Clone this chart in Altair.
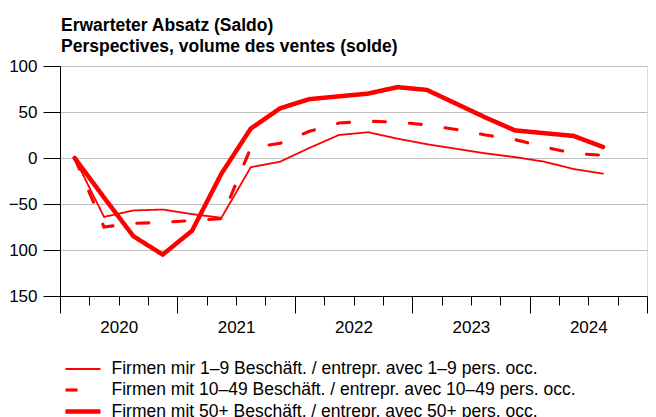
import json
import altair as alt
import pandas as pd

quarters = ["2020Q1", "2020Q2", "2020Q3", "2020Q4",
            "2021Q1", "2021Q2", "2021Q3", "2021Q4",
            "2022Q1", "2022Q2", "2022Q3", "2022Q4",
            "2023Q1", "2023Q2", "2023Q3", "2023Q4",
            "2024Q1", "2024Q2", "2024Q3"]
years = ["2020", "2021", "2022", "2023", "2024"]
series_names = [
    "Firmen mir 1–9 Beschäft. / entrepr. avec 1–9 pers. occ.",
    "Firmen mit 10–49 Beschäft. / entrepr. avec 10–49 pers. occ.",
    "Firmen mit 50+ Beschäft. / entrepr. avec 50+ pers. occ.",
]
small = [0, -64, -57, -56, -61, -65, -10, -4, 11, 25, 28, 21, 15, 10, 5, 1, -4, -12, -17]
medium = [0, -75, -71, -70, -68, -66, 11, 16, 29, 38, 40, 39, 36, 31, 25, 20, 12, 5, 3]
large = [0, -43, -85, -105, -79, -17, 32, 54, 64, 67, 70, 77, 74, 59, 44, 30, 27, 24, 12]
y_ticks = [-150, -100, -50, 0, 50, 100]

rows = []
for name, vals in zip(series_names, [small, medium, large]):
    for i, (q, v) in enumerate(zip(quarters, vals)):
        rows.append({"series": name, "quarter": q, "pos": i + 0.5, "value": v})
df = pd.DataFrame(rows)

FONT = "Liberation Sans"

x_label_expr = ("datum.value % 4 === 2 ? " + json.dumps(years)
                + "[(datum.value - 2) / 4] : ''")
y_label_expr = ("datum.value <= -100 ? format(-datum.value, 'd') : "
                "format(datum.value, 'd')")

x_axis = alt.Axis(
    title=None,
    values=list(range(21)),
    tickSize={"condition": {"test": "datum.value % 4 === 0", "value": 17}, "value": 9},
    labelExpr=x_label_expr,
    labelOverlap=False,
    labelFlush=False,
    labelPadding=14,
    labelFontSize=17,
    labelFont=FONT,
    labelColor="black",
    grid=False,
    domainColor="black",
    tickColor="black",
)
y_axis = alt.Axis(
    title=None,
    values=y_ticks,
    tickSize=17,
    labelPadding=6,
    labelFontSize=17,
    labelFont=FONT,
    labelColor="black",
    labelExpr=y_label_expr,
    grid=True,
    gridColor="#bebebe",
    gridWidth=1.2,
    domainColor="black",
    tickColor="black",
)
legend = alt.Legend(
    title=None,
    orient="none",
    legendX=10.5,
    legendY=292,
    direction="vertical",
    symbolType="M-1.75,0L1.75,0",
    symbolSize=400,
    symbolStrokeColor="red",
    labelFont=FONT,
    labelFontSize=17.5,
    labelColor="black",
    labelOffset=16,
    labelLimit=0,
    rowPadding=0,
    padding=0,
)

chart = alt.Chart(df).mark_line(color="red", strokeCap="round").encode(
    x=alt.X("pos:Q", scale=alt.Scale(domain=[0, 20], nice=False, zero=False), axis=x_axis),
    y=alt.Y("value:Q", scale=alt.Scale(domain=[-150, 100], nice=False, zero=False), axis=y_axis),
    strokeDash=alt.StrokeDash("series:N",
                              scale=alt.Scale(domain=series_names, range=[[1, 0], [12, 24], [1, 0]]),
                              legend=legend),
    strokeWidth=alt.StrokeWidth("series:N",
                                scale=alt.Scale(domain=series_names, range=[1.8, 4.5, 7]),
                                legend=legend),
).properties(
    width=587,
    height=230,
    title=alt.TitleParams(
        text=["Erwarteter Absatz (Saldo)", "Perspectives, volume des ventes (solde)"],
        anchor="start",
        frame="group",
        font=FONT,
        fontSize=17.5,
        fontWeight="bold",
        color="black",
        lineHeight=20.5,
        offset=2,
        dx=1,
    ),
    autosize=alt.AutoSizeParams(type="none"),
    padding={"left": 52, "top": 58, "right": 1, "bottom": 121},
).configure_view(stroke=None).configure(font=FONT)

chart.save("out.html", embed_options={"renderer": "svg", "actions": False})
